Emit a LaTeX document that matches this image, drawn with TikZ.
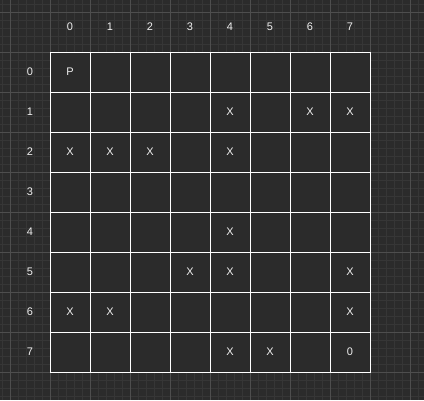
\documentclass[tikz,border=0pt]{standalone}
\usepackage{fontspec}
\setmainfont{Liberation Sans}
\usepackage{tikz}
\usetikzlibrary{positioning}
\definecolor{boardbg}{HTML}{2B2B2B}
\definecolor{gridminor}{HTML}{363636}
\definecolor{gridmajor}{HTML}{4E4E4E}
\definecolor{labeltext}{HTML}{F0F0F0}
\tikzset{%
% Specifications for style of nodes:
base/.style = {inner sep=0pt, text=labeltext, font=\fontsize{11}{13}\selectfont},
cell/.style = {base, draw=white, fill=boardbg, line width=1pt, minimum size=40pt},
axislabel/.style = {base},
cellmark/.style = {base},
minorline/.style = {gridminor, line width=0.8pt},
majorline/.style = {gridmajor, line width=0.8pt},
}

\begin{document}
\begin{tikzpicture}[x=1pt, y=-1pt]
    \useasboundingbox (0,0) rectangle (424,400);
    % Background and grid
    \fill[boardbg] (0,0) rectangle (424,400);
    \foreach \x in {2,10,...,418} \draw[minorline] (\x,0) -- (\x,400);
    \foreach \y in {4,12,...,396} \draw[minorline] (0,\y) -- (424,\y);
    \foreach \x in {10,50,...,410} \draw[majorline] (\x,0) -- (\x,400);
    \foreach \y in {12,52,...,372} \draw[majorline] (0,\y) -- (424,\y);

    % Board cells
    \foreach \r in {0,...,7}
        \foreach \c in {0,...,7}
            \node (c\r\c) [cell] at ({70+40*\c},{72+40*\r}) {};

    % Column and row numbers
    \foreach \c in {0,...,7}
        \node (col\c) [axislabel] at ({70+40*\c},27) {\c};
    \foreach \r in {0,...,7}
        \node (row\r) [axislabel] at (30,{72+40*\r}) {\r};

    % Contents of the cells
    \node (start) [cellmark] at (c00) {P};
    \node (goal) [cellmark] at (c77) {0};
    \foreach \r/\c in {1/4, 1/6, 1/7, 2/0, 2/1, 2/2, 2/4, 4/4, 5/3, 5/4, 5/7, 6/0, 6/1, 6/7, 7/4, 7/5}
        \node (x\r\c) [cellmark] at (c\r\c) {X};
\end{tikzpicture}
\end{document}
